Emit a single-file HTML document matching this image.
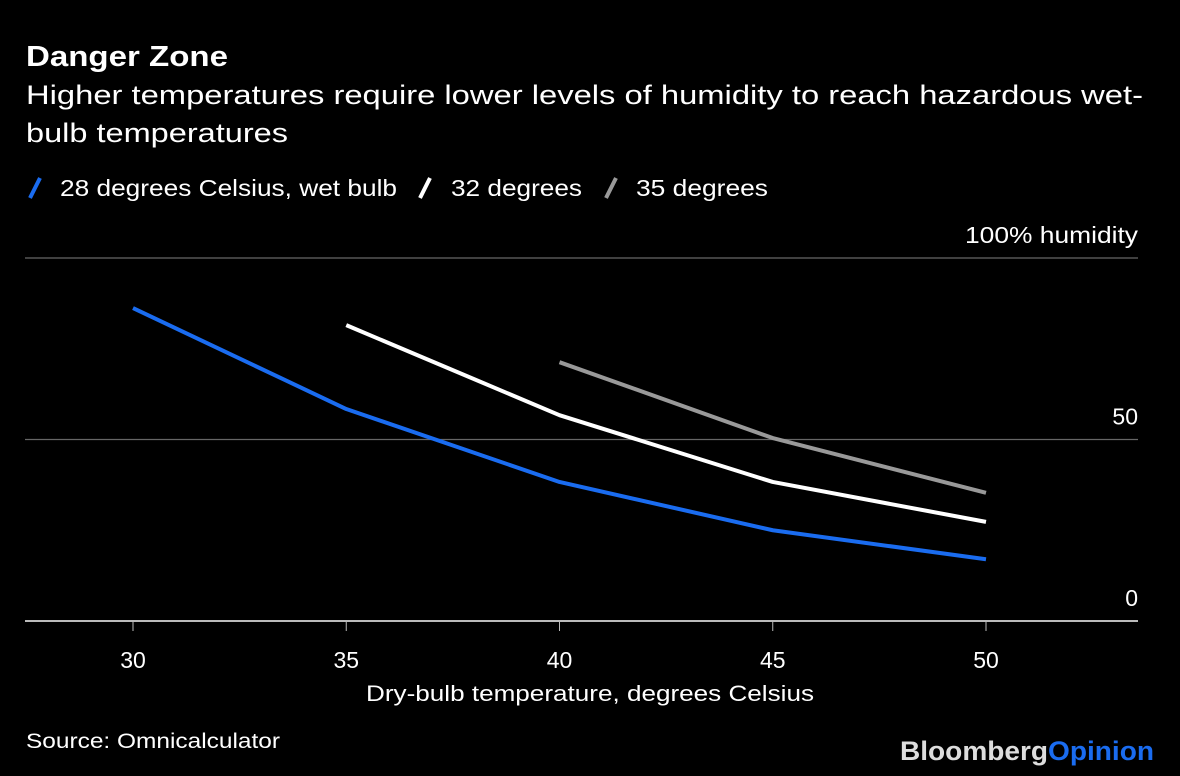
<!DOCTYPE html>
<html><head><meta charset="utf-8"><style>
html,body{margin:0;padding:0;background:#000;}
svg{display:block;font-family:"Liberation Sans",sans-serif;}
</style></head><body>
<svg id="c" width="1180" height="776" viewBox="0 0 1180 776">
<text x="26" y="66" fill="#fff" font-size="29" font-weight="bold" textLength="202" lengthAdjust="spacingAndGlyphs">Danger Zone</text>
<text x="26" y="104" fill="#fff" font-size="27" textLength="1117" lengthAdjust="spacingAndGlyphs">Higher temperatures require lower levels of humidity to reach hazardous wet-</text>
<text x="26" y="142" fill="#fff" font-size="27" textLength="262" lengthAdjust="spacingAndGlyphs">bulb temperatures</text>
<g>
<line x1="30" y1="198" x2="40" y2="178" stroke="#1a6cf0" stroke-width="4"/>
<text x="60" y="196" fill="#fff" font-size="23" textLength="337" lengthAdjust="spacingAndGlyphs">28 degrees Celsius, wet bulb</text>
<line x1="420" y1="198" x2="430" y2="178" stroke="#fff" stroke-width="4"/>
<text x="451" y="196" fill="#fff" font-size="23" textLength="131" lengthAdjust="spacingAndGlyphs">32 degrees</text>
<line x1="606" y1="198" x2="616" y2="178" stroke="#999" stroke-width="4"/>
<text x="636" y="196" fill="#fff" font-size="23" textLength="132" lengthAdjust="spacingAndGlyphs">35 degrees</text>
</g>
<g id="grid"></g>
<g id="series"></g>
<g id="xaxis"></g>
<text x="366" y="701" fill="#fff" font-size="22" textLength="448" lengthAdjust="spacingAndGlyphs">Dry-bulb temperature, degrees Celsius</text>
<text x="26" y="748" fill="#fff" font-size="21" textLength="254" lengthAdjust="spacingAndGlyphs">Source: Omnicalculator</text>
<text x="900" y="760" fill="#ddd" font-size="27" font-weight="bold" textLength="254" lengthAdjust="spacingAndGlyphs">Bloomberg<tspan fill="#1a6cf0">Opinion</tspan></text>
</svg>
<script>
const xCats=[30,35,40,45,50];
const yTicks=[0,50,100];
const yTickLabels=["0","50","100% humidity"];
const blueX=[30,35,40,45,50];
const blueY=[86.2,58.4,38.3,25,17];
const whiteX=[35,40,45,50];
const whiteY=[81.5,56.7,38.3,27.3];
const grayX=[40,45,50];
const grayY=[71.3,50.4,35.3];
const NS="http://www.w3.org/2000/svg";
function xs(v){return 133+(v-30)*(986-133)/20;}
function ys(v){return 621-v*(621-258)/100;}
function mk(tag,attrs,parent){const e=document.createElementNS(NS,tag);for(const k in attrs)e.setAttribute(k,attrs[k]);parent.appendChild(e);return e;}
const grid=document.getElementById('grid');
yTicks.forEach((t,i)=>{
  const y=ys(t);
  const l=mk('line',{x1:25,x2:1138,y1:y,y2:y,stroke:t===0?'#bbb':'#666','stroke-width':t===0?2:1.2},grid);
  
  
  const attrs={x:1138,y:y-15,fill:'#fff','font-size':23,'text-anchor':'end'};
  if(t===100){attrs.textLength=173;attrs.lengthAdjust='spacingAndGlyphs';}
  const tx=mk('text',attrs,grid);
  tx.textContent=yTickLabels[i];
  
  
});
const xa=document.getElementById('xaxis');
xCats.forEach(c=>{
  const x=xs(c);
  const l=mk('line',{x1:x,x2:x,y1:622,y2:631,stroke:'#bbb','stroke-width':1},xa);
  
  
  const t=mk('text',{x:x,y:668,fill:'#fff','font-size':23,'text-anchor':'middle'},xa);
  t.textContent=c;
  
  
});
const sg=document.getElementById('series');
[[grayX,grayY,'#999','series-35'],[whiteX,whiteY,'#fff','series-32'],[blueX,blueY,'#1a6cf0','series-28']].forEach(s=>{
  const pts=s[0].map((x,i)=>xs(x)+','+ys(s[1][i])).join(' ');
  const p=mk('polyline',{points:pts,fill:'none',stroke:s[2],'stroke-width':4,'stroke-linejoin':'round'},sg);
  
  
});
</script>
</body></html>
